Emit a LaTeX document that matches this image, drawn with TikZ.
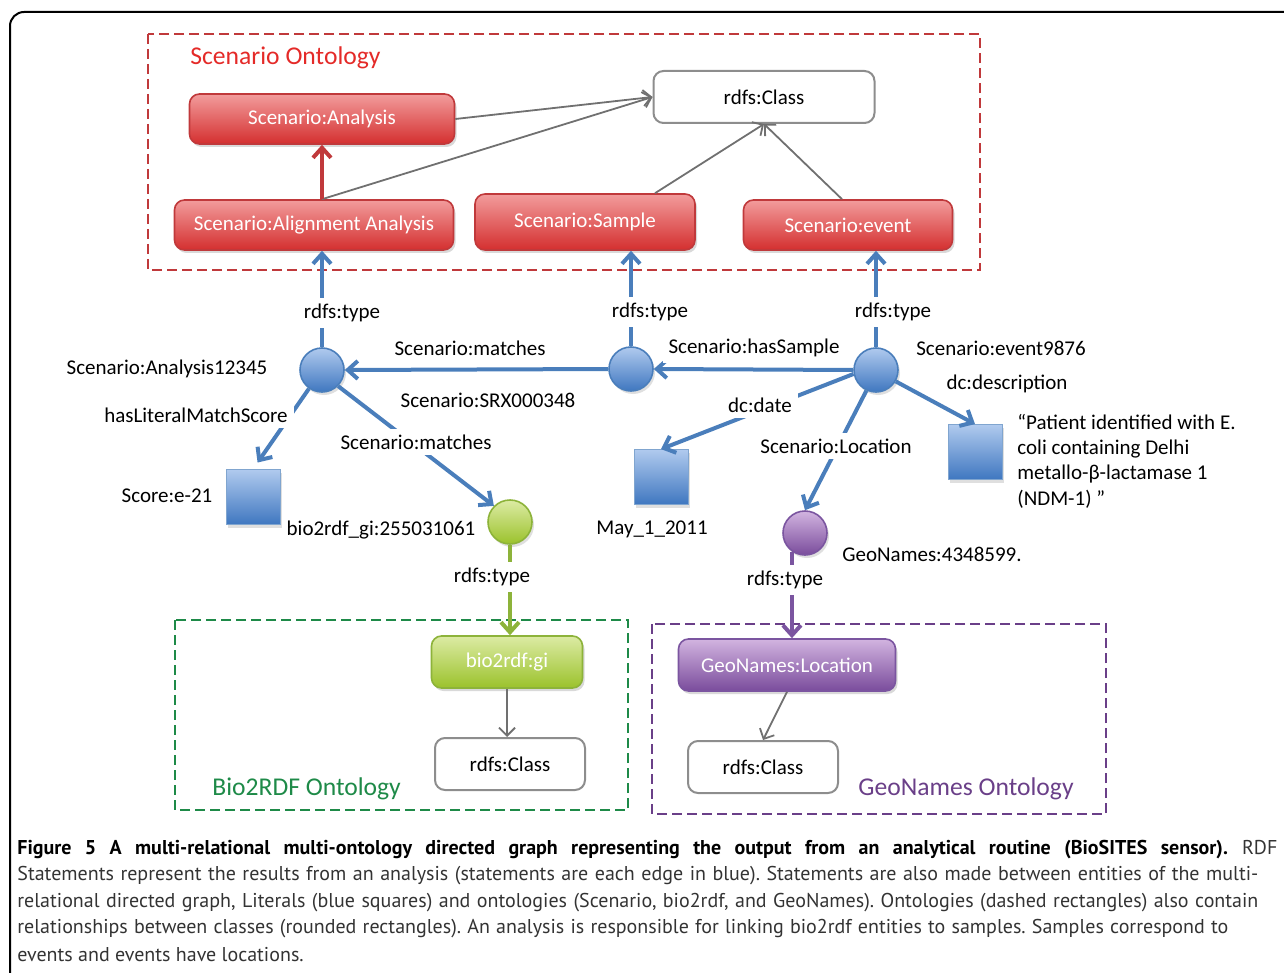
\documentclass[tikz,border=0pt]{standalone}
\usepackage{fontspec}
\setmainfont{Carlito}
\newfontfamily\capfont{PT Sans}
\usetikzlibrary{arrows.meta,positioning,calc,shadows}
\definecolor{cRed}{HTML}{C0393B}
\definecolor{cRedL}{HTML}{F29C9C}
\definecolor{cRedD}{HTML}{D42F2F}
\definecolor{cRedT}{HTML}{E42A28}
\definecolor{cBlue}{HTML}{4A7EBB}
\definecolor{cBlueL}{HTML}{B0CAEE}
\definecolor{cBlueD}{HTML}{3F77C0}
\definecolor{cGreen}{HTML}{8DB33A}
\definecolor{cGreenL}{HTML}{DCEBA4}
\definecolor{cGreenD}{HTML}{9BC22C}
\definecolor{cGreenT}{HTML}{1E8A48}
\definecolor{cPurple}{HTML}{7B55A0}
\definecolor{cPurpleL}{HTML}{D2B4E0}
\definecolor{cPurpleD}{HTML}{7A4C9C}
\definecolor{cPurpleT}{HTML}{6A3F88}
\definecolor{cGray}{HTML}{707070}
\frenchspacing

\begin{document}
\begin{tikzpicture}[x=0.5pt,y=-0.5pt,font=\fontsize{10.5}{12.7}\selectfont,
  cls/.style={draw=cGray!80,line width=1pt,rounded corners=5pt,fill=white,
    minimum width=75pt,minimum height=26pt},
  onto/.style={rounded corners=5pt,text=white,line width=0.8pt,minimum height=25pt,
    drop shadow={opacity=0.3,shadow xshift=1pt,shadow yshift=-1.5pt}},
  redbox/.style={onto,draw=cRed,top color=cRedL,bottom color=cRedD},
  greenbox/.style={onto,draw=cGreen,top color=cGreenL,bottom color=cGreenD},
  purplebox/.style={onto,draw=cPurple,top color=cPurpleL,bottom color=cPurpleD},
  ent/.style={circle,minimum size=22pt,inner sep=0pt,draw=cBlue,line width=0.8pt,
    top color=cBlueL,bottom color=cBlueD,drop shadow={opacity=0.25,shadow xshift=1pt,shadow yshift=-1.5pt}},
  lit/.style={minimum width=27pt,minimum height=27.5pt,inner sep=0pt,draw=cBlue!70,
    top color=cBlueL,bottom color=cBlueD,drop shadow={opacity=0.25,shadow xshift=1pt,shadow yshift=-1.5pt}},
  rel/.style={cBlue,line width=2pt,-{Straight Barb[length=5pt,width=9pt]}},
  sub/.style={cGray,line width=0.9pt,-{Straight Barb[length=4pt,width=8pt]}},
  lbl/.style={fill=white,inner sep=3pt},
  onto frame/.style={line width=1.1pt,dash pattern=on 5pt off 2.5pt},
  title/.style={anchor=west,inner sep=0pt,font=\fontsize{12.8}{15}\selectfont},
  captxt/.style={anchor=west,inner sep=0pt,text=black!80,font=\capfont\fontsize{10}{12}\selectfont}]
  \useasboundingbox (0,0) rectangle (1284,973);
  \draw[line width=1pt,rounded corners=7pt] (10,990) |- (1300,12);

  % ontologies
  \draw[onto frame,cRed] (148,34) rectangle (980,270);
  \draw[onto frame,cGreenT] (175,620) rectangle (628,810);
  \draw[onto frame,cPurpleT] (652,624) rectangle (1106,814);
  \node[title,text=cRedT] (ttlScen) at (190,58) {Scenario Ontology};
  \node[title,text=cGreenT] (ttlBio) at (212,789) {Bio2RDF Ontology};
  \node[title,text=cPurpleT] (ttlGeo) at (858,789) {GeoNames Ontology};

  % classes
  \node[redbox,minimum width=132.5pt] (analysis) at (322,119) {Scenario:Analysis};
  \node[redbox,minimum width=139.5pt] (align) at (314,225) {Scenario:Alignment Analysis};
  \node[redbox,minimum width=110pt,minimum height=28pt] (sample) at (585,222) {Scenario:Sample};
  \node[redbox,minimum width=104.5pt] (event) at (848,225) {Scenario:event};
  \node[cls,minimum width=110.5pt] (cls) at (764,97) {rdfs:Class};
  \node[greenbox,minimum width=75.5pt,minimum height=26pt] (gi) at (507,662) {bio2rdf:gi};
  \node[cls] (clsB) at (510,764) {rdfs:Class};
  \node[purplebox,minimum width=108.5pt,minimum height=26pt] (loc) at (787,665) {GeoNames:Location};
  \node[cls] (clsG) at (763,767) {rdfs:Class};

  % entities and literals
  \node[ent] (a12345) at (322,370) {};
  \node[ent] (srx) at (631,369) {};
  \node[ent] (ev9876) at (876,370) {};
  \node[ent,draw=cGreen,top color=cGreenL,bottom color=cGreenD] (gi255) at (510,522) {};
  \node[ent,draw=cPurple,top color=cPurpleL,bottom color=cPurpleD] (geo) at (805,533) {};
  \node[lit] (score) at (253,497) {};
  \node[lit] (date) at (661,477) {};
  \node[lit] (desc) at (975,452) {};

  \node (nA) at (167,369) {Scenario:Analysis12345};
  \node (nS) at (488,400) {Scenario:SRX000348};
  \node (nE) at (1001,348) {Scenario:event9876};
  \node (nScore) at (167,496) {Score:e-21};
  \node (nGi) at (381,530) {bio2rdf\_gi:255031061};
  \node (nDate) at (652,529) {May\_1\_2011};
  \node (nGeo) at (932,554) {GeoNames:4348599.};
  \node[anchor=west,align=left,inner sep=0pt] (nDesc) at (1017,461)
    {“Patient identified with E.\\coli containing Delhi\\metallo-β-lactamase 1\\(NDM-1) ”};

  % class hierarchy
  \draw[sub] (analysis.east) -- (cls.west);
  \draw[sub] (analysis.south |- align.north) -- (cls.west);
  \draw[sub] ([xshift=35pt]sample.north) -- (cls.south);
  \draw[sub] ([xshift=-3pt]event.north) -- (cls.south);
  \draw[sub] (gi.south) -- (gi.south |- clsB.north);
  \draw[sub] (loc.south) -- (clsG.north);
  \draw[cRed,line width=2pt,-{Straight Barb[length=5pt,width=9pt]}]
    (analysis.south |- align.north) -- (analysis.south);

  % statements
  \draw[rel] (a12345.north) -- (a12345.north |- align.south);
  \draw[rel] (srx.north) -- (srx.north |- sample.south);
  \draw[rel] (ev9876.north) -- (ev9876.north |- event.south);
  \draw[rel] (srx.west) -- (a12345.east);
  \draw[rel] (ev9876.west) -- (srx.east);
  \draw[rel,shorten >=4pt] (a12345.235) -- (score.north);
  \draw[rel] (a12345.315) -- (gi255.135);
  \draw[rel] (ev9876.190) -- (date.north);
  \draw[rel] (ev9876.245) -- (geo.north);
  \draw[rel] (ev9876.330) -- (desc.north);
  \draw[rel,cGreen] (gi255.south) -- (gi255.south |- gi.north);
  \draw[rel,cPurple] (geo.235) -- (geo.235 |- loc.north);

  \foreach \n/\x/\y in {tyA/342/313,tyS/650/312,tyE/893/312,tyGi/492/577,tyGeo/785/580}
    \node[lbl] (\n) at (\x,\y) {rdfs:type};
  \node[lbl] (mA) at (470,348) {Scenario:matches};
  \node[lbl] (hasS) at (754,348) {Scenario:hasSample};
  \node[lbl] (hlms) at (196,415) {hasLiteralMatchScore};
  \node[lbl] (mGi) at (416,442) {Scenario:matches};
  \node[lbl] (dcDate) at (760,405) {dc:date};
  \node[lbl] (sLoc) at (836,446) {Scenario:Location};
  \node[lbl] (dcDesc) at (1007,384) {dc:description};

  % caption
  \node[captxt] (cap1) at (17,850) {\makebox[630pt][s]{\textbf{\color{black}Figure 5 A multi-relational multi-ontology directed graph representing the output from an analytical routine (BioSITES sensor).} RDF}};
  \node[captxt] (cap2) at (17,876) {\makebox[620.5pt][s]{Statements represent the results from an analysis (statements are each edge in blue). Statements are also made between entities of the multi-}};
  \node[captxt] (cap3) at (17,903) {\makebox[620.5pt][s]{relational directed graph, Literals (blue squares) and ontologies (Scenario, bio2rdf, and GeoNames). Ontologies (dashed rectangles) also contain}};
  \node[captxt] (cap4) at (17,929) {\makebox[605.5pt][s]{relationships between classes (rounded rectangles). An analysis is responsible for linking bio2rdf entities to samples. Samples correspond to}};
  \node[captxt] (cap5) at (17,955) {events and events have locations.};
\end{tikzpicture}
\end{document}
